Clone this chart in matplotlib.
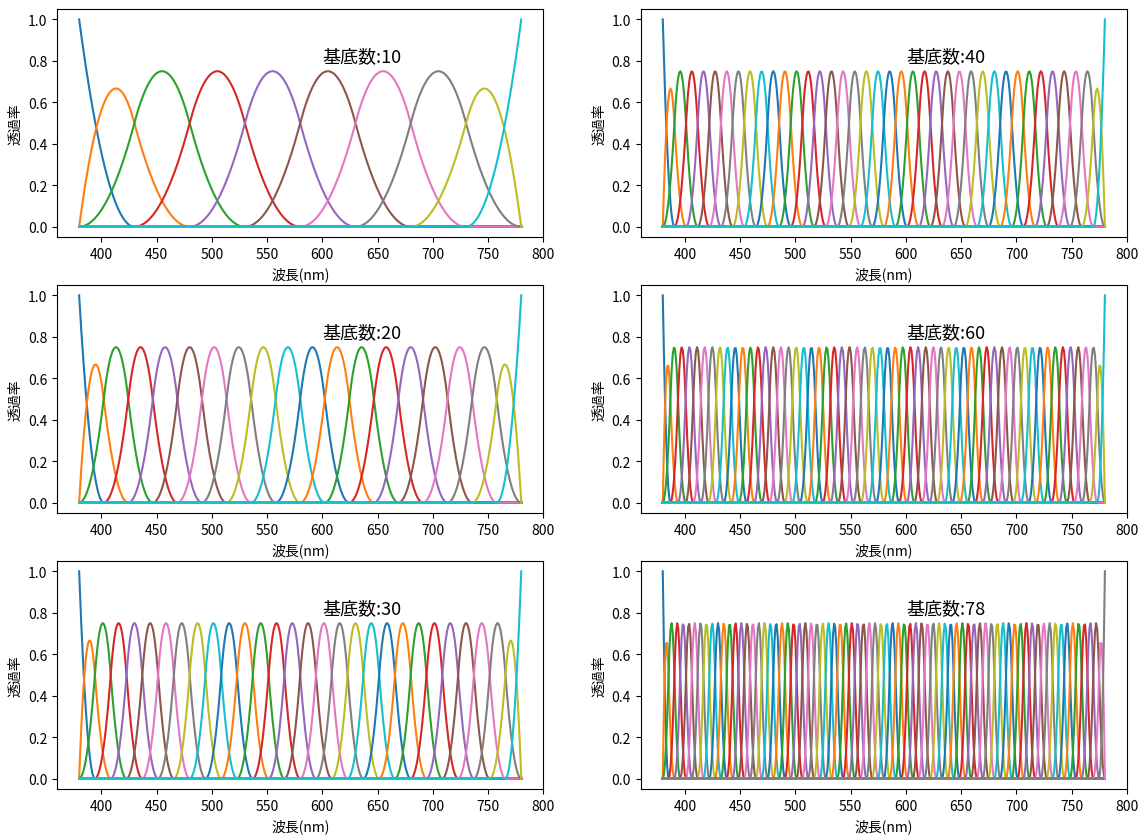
import numpy as np
import matplotlib
matplotlib.use("Agg")
import matplotlib.pyplot as plt

plt.rcParams['font.family'] = ['Noto Sans CJK JP', 'DejaVu Sans']

# Wavelength range (nm) and the number of basis functions per panel (row by row)
wl_min, wl_max = 380, 780
basis_counts = [10, 40, 20, 60, 30, 78]
degree = 2
wavelength = np.arange(wl_min, wl_max + 1, 1.0)


def bspline_basis(x, n_basis, k, lo, hi):
    """Clamped uniform B-spline basis (Cox-de Boor), shape (n_basis, len(x))."""
    n_int = n_basis - k
    inner = np.linspace(lo, hi, n_int + 1)
    t = np.concatenate([[lo] * k, inner, [hi] * k])
    # degree-0 pieces
    B = np.zeros((len(t) - 1, len(x)))
    for i in range(len(t) - 1):
        if t[i] < t[i + 1]:
            B[i] = (x >= t[i]) & (x < t[i + 1])
    # include the right end point in the last non-empty interval
    last = np.max(np.nonzero(t[:-1] < t[1:])[0])
    B[last, x == hi] = 1.0
    for d in range(1, k + 1):
        Bn = np.zeros((len(t) - 1 - d, len(x)))
        for i in range(len(t) - 1 - d):
            term = np.zeros(len(x))
            den1 = t[i + d] - t[i]
            if den1 > 0:
                term += (x - t[i]) / den1 * B[i]
            den2 = t[i + d + 1] - t[i + 1]
            if den2 > 0:
                term += (t[i + d + 1] - x) / den2 * B[i + 1]
            Bn[i] = term
        B = Bn
    return B


fig, axes = plt.subplots(3, 2, figsize=(11.45, 8.37), dpi=100)
fig.subplots_adjust(left=0.0498, right=0.9843, top=0.988, bottom=0.0562,
                    hspace=0.21, wspace=0.2)

for ax, n in zip(axes.ravel(), basis_counts):
    basis = bspline_basis(wavelength, n, degree, wl_min, wl_max)
    for b in basis:
        ax.plot(wavelength, b)
    ax.text(600, 0.8, f"基底数:{n}", fontsize=13)
    ax.set_xlabel("波長(nm)")
    ax.set_ylabel("透過率")

fig.savefig("out.png", dpi=100)
